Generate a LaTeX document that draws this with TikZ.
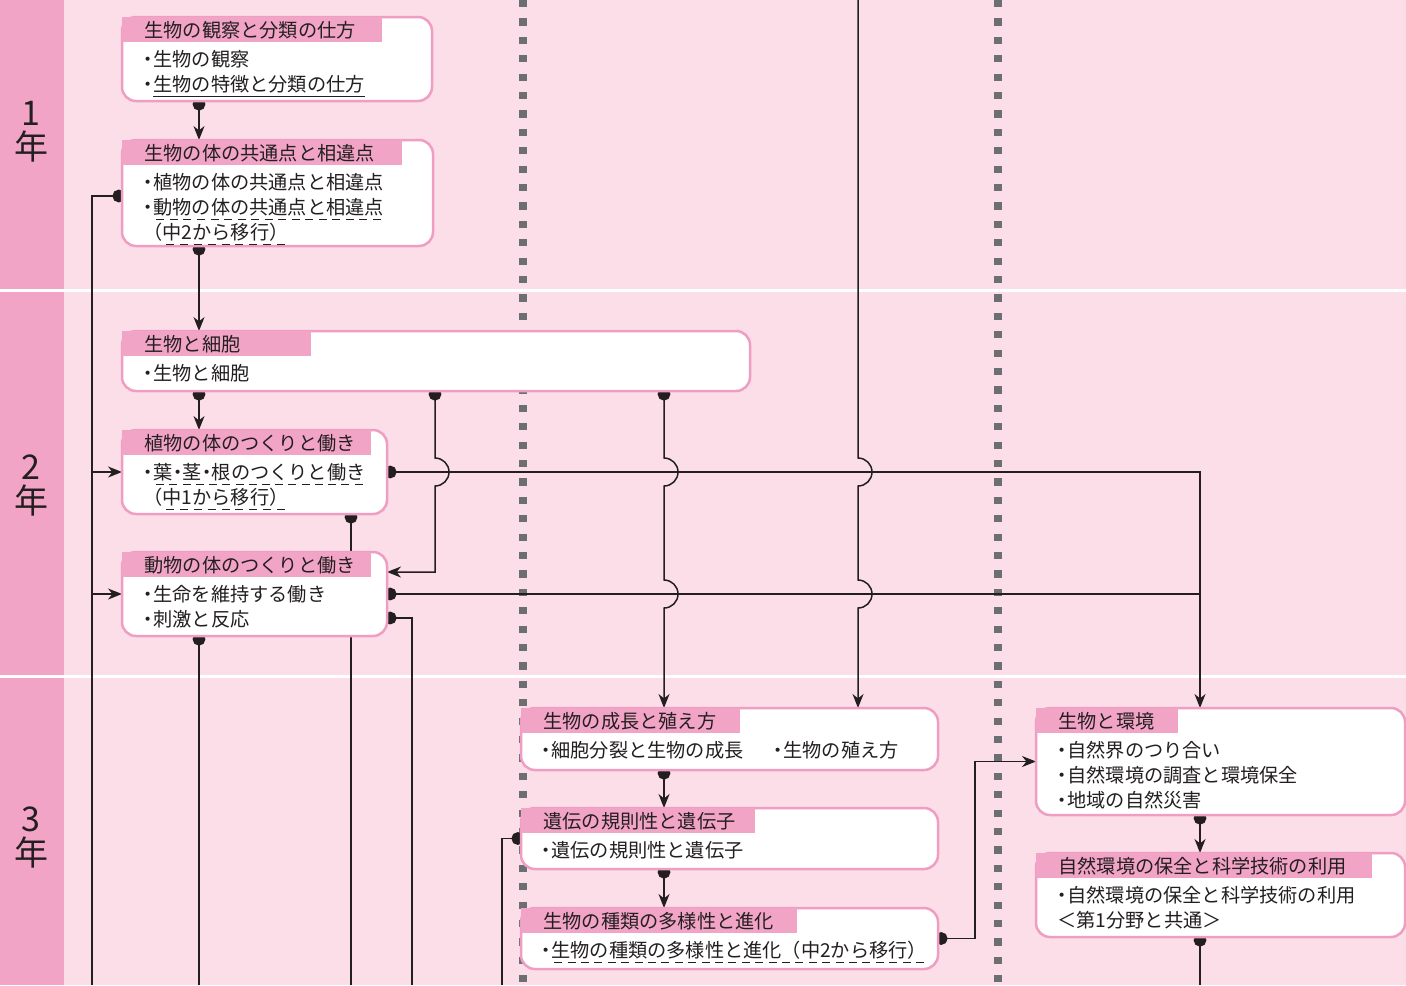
\documentclass[tikz,border=0pt]{standalone}
\usepackage{fontspec}
\setmainfont{Noto Sans CJK JP}
\usetikzlibrary{arrows.meta}
\definecolor{bgpink}{HTML}{FCDEE9}
\definecolor{tabpink}{HTML}{F2A4C7}
\definecolor{edgepink}{HTML}{EF9DC2}
\definecolor{ink}{HTML}{231F20}
\definecolor{dotgray}{HTML}{6D6E71}
\pgfdeclarelayer{background}
\pgfdeclarelayer{wires}
\pgfsetlayers{background,wires,main}
\newcommand\bul{\makebox[5pt][c]{・}}
\newcommand\solidul[1]{\leavevmode\setbox0\hbox{#1}\rlap{\raisebox{-2.8pt}{\rule{\wd0}{0.6pt}}}\box0}
\newcommand\dashul[1]{\leavevmode\setbox0\hbox{#1}\rlap{\raisebox{-2.8pt}{\hbox to\wd0{\xleaders\hbox to 6.5pt{\hss\rule{4pt}{0.6pt}\hss}\hfill}}}\box0}
\tikzset{unit/.style={draw=edgepink, line width=1.25pt, fill=white, rounded corners=7pt,
        anchor=north west, inner sep=0pt, outer sep=0pt},
    headtab/.style={fill=tabpink, anchor=north west, inner xsep=11pt, inner ysep=0pt,
        minimum height=12.5pt, text width=#1, align=left, text height=8.6pt, text depth=0.8pt},
    items/.style={anchor=north west, align=left, inner sep=0pt},
    year/.style={align=center, font=\fontsize{17}{17}\selectfont},
    wire/.style={draw=ink, line width=0.75pt},
    feed/.style={wire, {Circle[length=6.4pt]}-, shorten <=-1.6pt},
    feedto/.style={wire, {Circle[length=6.4pt]}-{Stealth[length=7pt,width=5.5pt,inset=2.2pt]}, shorten <=-1.6pt},
    into/.style={wire, -{Stealth[length=7pt,width=5.5pt,inset=2.2pt]}},
    yearsep/.style={draw=white, line width=1.5pt},
    grade/.style={draw=dotgray, line width=3.6pt, dash pattern=on 3.6pt off 5.6pt},
    }

\begin{document}
\begin{tikzpicture}[x=0.5pt, y=-0.5pt, font=\fontsize{9.6}{12.5}\selectfont, text=ink]
\useasboundingbox (0,0) rectangle (1406,985);
\begin{pgfonlayer}{background}
\fill[bgpink] (0,0) rectangle (1406,985);
\fill[tabpink] (0,0) rectangle (64,985);
\draw[yearsep] (0,290) -- (1406,290);
\draw[yearsep] (0,676) -- (1406,676);
\end{pgfonlayer}

% grades
\node[year] (g1) at (31,132) {1\\年};
\node[year] (g2) at (31,486) {2\\年};
\node[year] (g3) at (31,838) {3\\年};

% 1st grade
\node[unit, minimum width=155pt, minimum height=42pt] (b1) at (122,17) {};
\node[headtab=108pt] (b1t) at (b1.north west) {生物の観察と分類の仕方};
\node[items] (b1i) at ([xshift=10.5pt,yshift=-3.6pt]b1t.south west)
    {\bul 生物の観察\\\bul\solidul{生物の特徴と分類の仕方}};
\node[unit, minimum width=155.5pt, minimum height=53pt] (b2) at (122,140) {};
\node[headtab=118pt] (b2t) at (b2.north west) {生物の体の共通点と相違点};
\node[items] (b2i) at ([xshift=10.5pt,yshift=-3.6pt]b2t.south west)
    {\bul 植物の体の共通点と相違点\\\bul\dashul{動物の体の共通点と相違点}\\（\dashul{中2から移行）}};

% 2nd grade
\node[unit, minimum width=314pt, minimum height=30pt] (b3) at (122,331) {};
\node[headtab=72.5pt] (b3t) at (b3.north west) {生物と細胞};
\node[items] (b3i) at ([xshift=10.5pt,yshift=-3.6pt]b3t.south west) {\bul 生物と細胞};
\node[unit, minimum width=132.5pt, minimum height=42pt] (b4) at (122,430) {};
\node[headtab=102.5pt] (b4t) at (b4.north west) {植物の体のつくりと働き};
\node[items] (b4i) at ([xshift=10.5pt,yshift=-3.6pt]b4t.south west)
    {\bul\dashul{葉\bul 茎\bul 根のつくりと働き}\\（\dashul{中1から移行）}};
\node[unit, minimum width=132.5pt, minimum height=42pt] (b5) at (122,552) {};
\node[headtab=102.5pt] (b5t) at (b5.north west) {動物の体のつくりと働き};
\node[items] (b5i) at ([xshift=10.5pt,yshift=-3.6pt]b5t.south west)
    {\bul 生命を維持する働き\\\bul 刺激と反応};

% 3rd grade
\node[unit, minimum width=208.5pt, minimum height=31pt] (b6) at (521,708) {};
\node[headtab=87.5pt] (b6t) at (b6.north west) {生物の成長と殖え方};
\node[items] (b6i) at ([xshift=10pt,yshift=-3.6pt]b6t.south west)
    {\makebox[116pt][l]{\bul 細胞分裂と生物の成長}\bul 生物の殖え方};
\node[unit, minimum width=208.5pt, minimum height=30.5pt] (b7) at (521,808) {};
\node[headtab=95pt] (b7t) at (b7.north west) {遺伝の規則性と遺伝子};
\node[items] (b7i) at ([xshift=10pt,yshift=-3.6pt]b7t.south west) {\bul 遺伝の規則性と遺伝子};
\node[unit, minimum width=208.5pt, minimum height=30.5pt] (b8) at (521,908) {};
\node[headtab=116pt] (b8t) at (b8.north west) {生物の種類の多様性と進化};
\node[items] (b8i) at ([xshift=10pt,yshift=-3.6pt]b8t.south west)
    {\bul\dashul{生物の種類の多様性と進化（中2から移行）}};
\node[unit, minimum width=184.5pt, minimum height=53.5pt] (b9) at (1036,708) {};
\node[headtab=49pt] (b9t) at (b9.north west) {生物と環境};
\node[items] (b9i) at ([xshift=10.5pt,yshift=-3.6pt]b9t.south west)
    {\bul 自然界のつり合い\\\bul 自然環境の調査と環境保全\\\bul 地域の自然災害};
\node[unit, minimum width=184.5pt, minimum height=42pt] (b10) at (1036,853) {};
\node[headtab=146pt] (b10t) at (b10.north west) {自然環境の保全と科学技術の利用};
\node[items] (b10i) at ([xshift=10.5pt,yshift=-3.6pt]b10t.south west)
    {\bul 自然環境の保全と科学技術の利用\\＜第1分野と共通＞};

% columns and free ends
\coordinate (colA) at (199,0);
\coordinate (colB) at (435,0);
\coordinate (colC) at (664,0);
\coordinate (colE) at (1200,0);
\coordinate (colF) at (975,0);
\coordinate (colL) at (92,0);
\coordinate (topD) at (858,0);
\coordinate (endA) at (199,985);
\coordinate (endL) at (92,985);
\coordinate (endG) at (351,985);
\coordinate (endH) at (412,985);
\coordinate (endM) at (502,985);
\coordinate (endE) at (1200,985);

\begin{pgfonlayer}{wires}
\draw[grade] (523,0) -- (523,985);
\draw[grade] (998,0) -- (998,985);
\draw[feedto] (b1.south -| colA) -- (b2.north -| colA);
\draw[feedto] (b2.south -| colA) -- (b3.north -| colA);
\draw[feedto] (b3.south -| colA) -- (b4.north -| colA);
\draw[feedto] (b3.south -| colB) -- ([yshift=7pt]b4.east -| colB)
    arc[start angle=90, end angle=-90, radius=7pt] |- ([yshift=11pt]b5.east);
\draw[feedto] (b3.south -| colC) -- ([yshift=7pt]b4.east -| colC)
    arc[start angle=90, end angle=-90, radius=7pt] -- ([yshift=7pt]b5.east -| colC)
    arc[start angle=90, end angle=-90, radius=7pt] -- (b6.north -| colC);
\draw[into] (topD) -- ([yshift=7pt]b4.east -| topD)
    arc[start angle=90, end angle=-90, radius=7pt] -- ([yshift=7pt]b5.east -| topD)
    arc[start angle=90, end angle=-90, radius=7pt] -- (b6.north -| topD);
\draw[feedto] (b4.east) -| (b9.north -| colE);
\draw[feed] (b5.east) -- (b5.east -| colE);
\draw[feed] ([yshift=-12pt]b5.east) -| (endH);
\draw[feed] (b4.south -| endG) -- (endG);
\draw[feed] (b5.south -| endA) -- (endA);
\draw[feed] ([yshift=-1.5pt]b2.west) -| (endL);
\draw[into] (b4.west -| colL) -- (b4.west);
\draw[into] (b5.west -| colL) -- (b5.west);
\draw[feedto] (b6.south -| colC) -- (b7.north -| colC);
\draw[feedto] (b7.south -| colC) -- (b8.north -| colC);
\draw[feed] (b7.west) -| (endM);
\draw[feedto] (b8.east) -| (b9.west -| colF) -- (b9.west);
\draw[feedto] (b9.south -| colE) -- (b10.north -| colE);
\draw[feed] (b10.south -| colE) -- (endE);
\end{pgfonlayer}
\end{tikzpicture}
\end{document}
